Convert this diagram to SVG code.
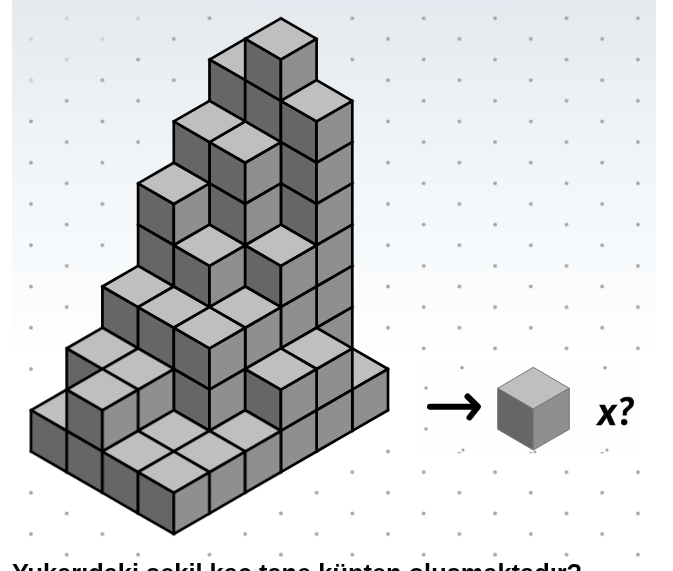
<svg xmlns="http://www.w3.org/2000/svg" width="673" height="571" viewBox="0 0 673 571">
<style>
.f{stroke:#000;stroke-width:2.7;stroke-linejoin:round;vector-effect:non-scaling-stroke}
.d{fill:#a6a6a6}
.u{fill:#e6ebf0}
.m{stroke:#777;stroke-width:1;stroke-linejoin:round}
text{fill:#000}
</style>
<defs>
<linearGradient id="bg" gradientUnits="userSpaceOnUse" x1="0" y1="0" x2="0" y2="350">
<stop offset="0" stop-color="#e3e9ee"/><stop offset="0.5" stop-color="#f2f6f9"/><stop offset="1" stop-color="#fdfeff"/>
</linearGradient>
<pattern id="dots" patternUnits="userSpaceOnUse" x="13.15" y="-12.645" width="71.4" height="41.26">
<circle class="d" cx="17.85" cy="10.315" r="1.9"/><circle class="d" cx="53.55" cy="30.945" r="1.9"/>
</pattern>
<polygon id="t" class="f" fill="#bfbfbf" points="0,0 1,1 0,2 -1,1"/>
<polygon id="l" class="f" fill="#666666" points="0,0 1,1 1,3 0,2"/>
<polygon id="r" class="f" fill="#8f8f8f" points="0,0 1,-1 1,1 0,2"/>
<filter id="soft" x="-5%" y="-5%" width="110%" height="110%"><feGaussianBlur stdDeviation="0.45"/></filter>
</defs>
<rect x="12" y="0" width="644" height="350" fill="url(#bg)"/>
<rect x="12" y="-3" width="644" height="574" fill="url(#dots)" filter="url(#soft)"/>
<g id="faint" class="u" opacity="0.6">
<circle cx="66.7" cy="18.3" r="3"/><circle cx="138.1" cy="18.3" r="3"/><circle cx="31" cy="39" r="3"/><circle cx="102.4" cy="39" r="3"/><circle cx="66.7" cy="59.6" r="3"/><circle cx="31" cy="80.2" r="3"/>
</g>
<g id="stack" filter="url(#soft)"><g transform="matrix(35.7 0 0 20.63 31 18.3)">
<use href="#t" x="6" y="1"/><use href="#l" x="5" y="2"/><use href="#l" x="6" y="3"/>
<use href="#t" x="7" y="0"/><use href="#l" x="6" y="1"/><use href="#r" x="7" y="2"/>
<use href="#l" x="7" y="4"/><use href="#l" x="7" y="6"/><use href="#l" x="7" y="8"/>
<use href="#r" x="8" y="5"/><use href="#r" x="8" y="7"/><use href="#r" x="8" y="9"/><use href="#r" x="8" y="11"/><use href="#r" x="8" y="13"/><use href="#r" x="8" y="15"/>
<use href="#t" x="8" y="3"/>
<use href="#l" x="5" y="6"/><use href="#l" x="5" y="8"/><use href="#r" x="6" y="7"/><use href="#r" x="6" y="9"/><use href="#t" x="6" y="5"/>
<use href="#l" x="4" y="5"/><use href="#t" x="5" y="4"/>
<use href="#l" x="3" y="8"/><use href="#l" x="3" y="10"/><use href="#r" x="4" y="9"/><use href="#t" x="4" y="7"/>
<use href="#l" x="4" y="11"/><use href="#r" x="5" y="12"/><use href="#t" x="5" y="10"/>
<use href="#l" x="6" y="11"/><use href="#r" x="7" y="12"/><use href="#r" x="7" y="14"/><use href="#t" x="7" y="10"/>
<use href="#l" x="2" y="13"/><use href="#t" x="3" y="12"/>
<use href="#l" x="3" y="14"/><use href="#t" x="4" y="13"/>
<use href="#r" x="6" y="15"/><use href="#t" x="6" y="13"/>
<use href="#l" x="4" y="15"/><use href="#l" x="4" y="17"/><use href="#r" x="5" y="16"/><use href="#r" x="5" y="18"/><use href="#t" x="5" y="14"/>
<use href="#t" x="9" y="16"/><use href="#r" x="9" y="18"/>
<use href="#r" x="8" y="17"/><use href="#r" x="8" y="19"/><use href="#t" x="8" y="15"/>
<use href="#l" x="6" y="17"/><use href="#r" x="7" y="18"/><use href="#r" x="7" y="20"/><use href="#t" x="7" y="16"/>
<use href="#t" x="1" y="18"/>
<use href="#l" x="1" y="16"/><use href="#t" x="2" y="15"/>
<use href="#r" x="3" y="18"/><use href="#t" x="3" y="16"/>
<use href="#l" x="1" y="18"/><use href="#r" x="2" y="19"/><use href="#t" x="2" y="17"/>
<use href="#l" x="0" y="19"/><use href="#l" x="1" y="20"/><use href="#l" x="2" y="21"/><use href="#l" x="3" y="22"/>
<use href="#r" x="4" y="23"/><use href="#r" x="5" y="22"/><use href="#r" x="6" y="21"/>
<use href="#t" x="6" y="19"/><use href="#t" x="4" y="19"/><use href="#t" x="5" y="20"/><use href="#t" x="3" y="20"/><use href="#t" x="4" y="21"/>
</g></g>
<rect x="420" y="363" width="220" height="89" fill="#fefeff"/>
<g id="rest-dots" class="d" filter="url(#soft)">
<circle cx="462" cy="367.7" r="1.8"/><circle cx="605" cy="367.7" r="1.8"/><circle cx="426" cy="388" r="1.8"/><circle cx="426" cy="429" r="1.8"/><circle cx="463" cy="450" r="1.6"/><circle cx="607" cy="450" r="1.6"/><circle cx="535" cy="452" r="1.4"/>
</g>
<g id="arrow" fill="none" stroke="#000" stroke-width="6" stroke-linecap="round" stroke-linejoin="round">
<path d="M430 406.7H477M467.5 396.5L478 406.7L469.5 417.5"/>
</g>
<g id="cube" filter="url(#soft)">
<polygon class="m" fill="#bfbfbf" points="533.3,367.3 569.3,388.3 533.3,409 497.7,388.3"/>
<polygon class="m" fill="#666666" points="497.7,388.3 533.3,409 533.3,450 497.7,429.3"/>
<polygon class="m" fill="#8f8f8f" points="533.3,409 569.3,388.3 569.3,429.3 533.3,450"/>
</g>
<text id="x" x="598" y="425" font-family="Lato, sans-serif" font-size="38" font-weight="700" font-style="italic" stroke="#000" stroke-width="0.7" letter-spacing="1">x?</text>
<text id="q" x="12" y="581.5" font-family="Liberation Sans, sans-serif" font-size="25.4" font-weight="700">Yukarıdaki şekil kaç tane küpten oluşmaktadır?</text>
</svg>
